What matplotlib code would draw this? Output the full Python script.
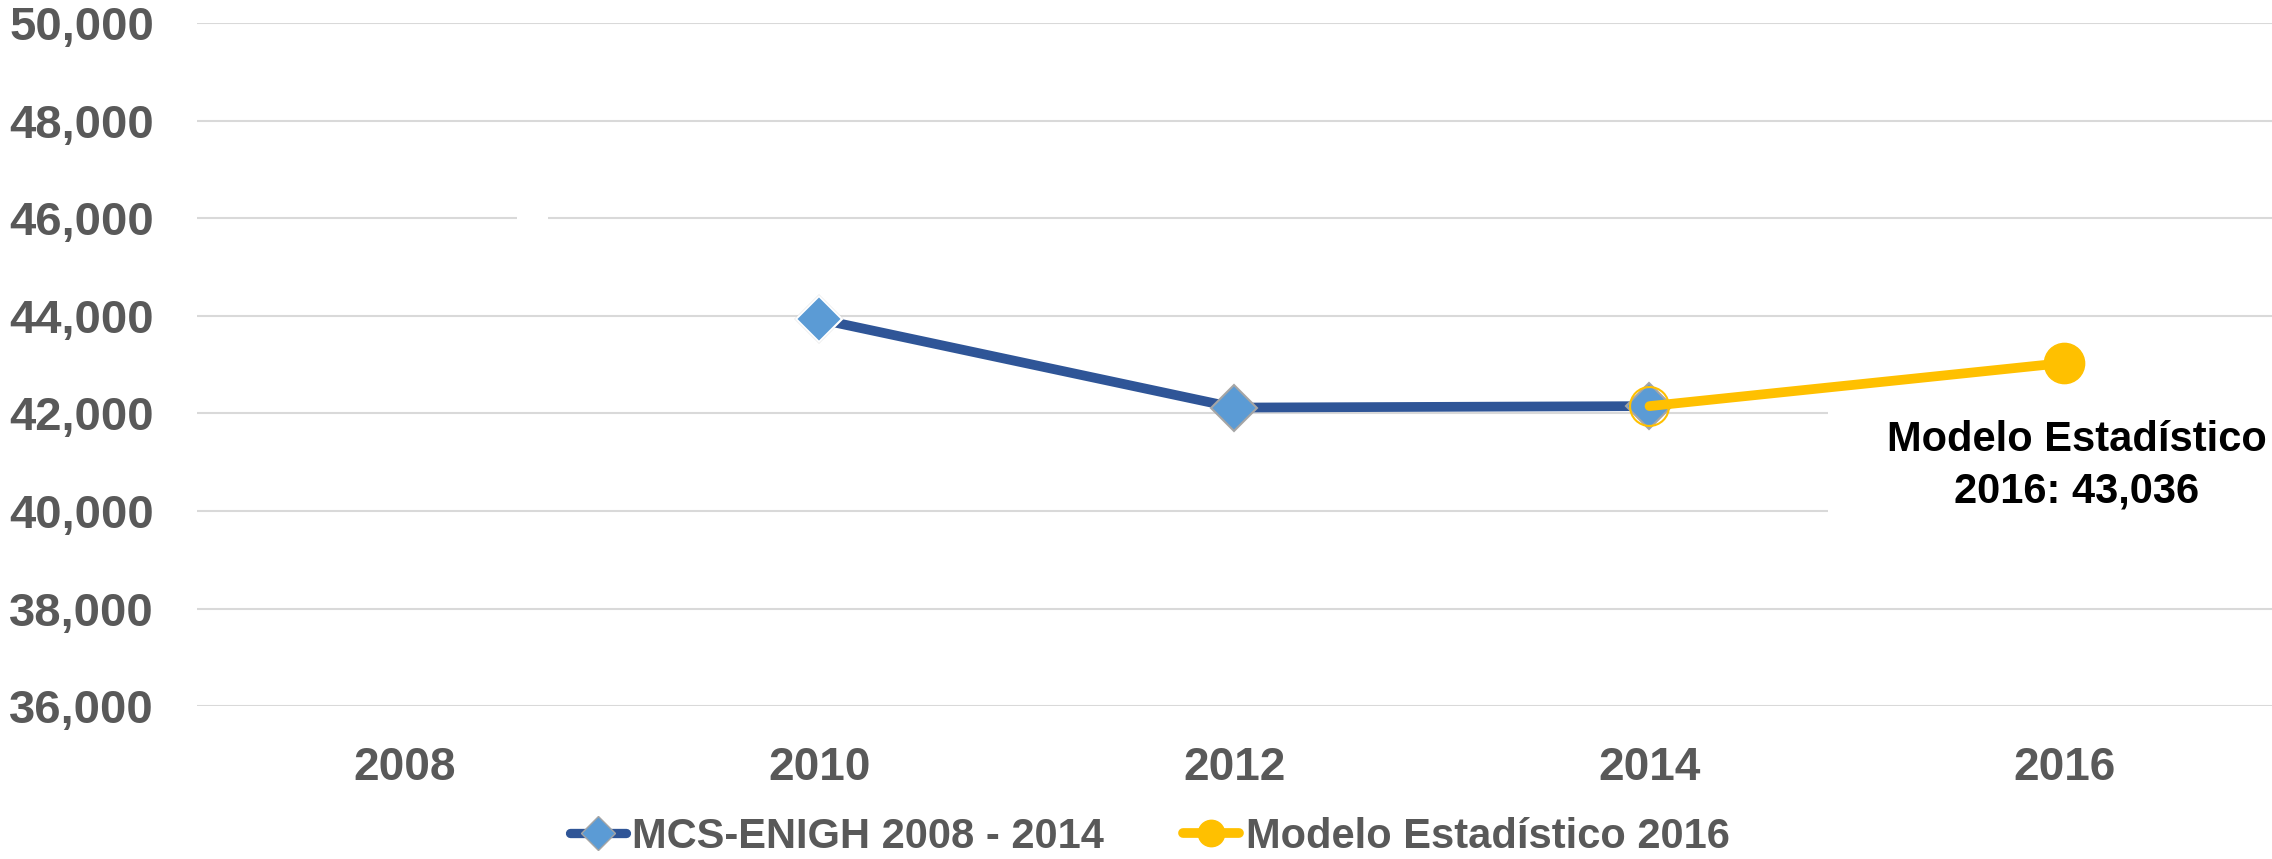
import numpy as np
import matplotlib
matplotlib.use("Agg")
import matplotlib.pyplot as plt
from matplotlib.lines import Line2D
from matplotlib.patches import Rectangle

years = ['2008', '2010', '2012', '2014', '2016']
mcs_enigh = [np.nan, 43930, 42120, 42150, np.nan]
modelo = [np.nan, np.nan, np.nan, 42150, 43036]
yticks = [36000, 38000, 40000, 42000, 44000, 46000, 48000, 50000]
label_mcs = 'MCS-ENIGH 2008 - 2014'
label_modelo = 'Modelo Estadístico 2016'
note = 'Modelo Estadístico\n2016: 43,036'

BLUE = '#2F5597'
LIGHTBLUE = '#5B9BD5'
YELLOW = '#FFC000'
GREY = '#595959'

plt.rcParams['font.family'] = ['Liberation Sans', 'DejaVu Sans']
plt.rcParams['font.weight'] = 'bold'


def main():
    fig = plt.figure(figsize=(22.72, 8.59), dpi=100)
    ax = fig.add_axes([0.0867, 0.178, 0.9133, 0.795])
    x = np.arange(len(years))

    # blue series
    ax.plot(x, mcs_enigh, color=BLUE, lw=7, marker='D', ms=23,
            mfc=LIGHTBLUE, mec='#A5A5A5', mew=1.5, zorder=3,
            solid_capstyle='butt')
    ax.plot(x[1:2], mcs_enigh[1:2], ls='none', marker='D', ms=23,
            mfc=LIGHTBLUE, mec='white', mew=1.5, zorder=3)

    # yellow series
    ax.plot(x, modelo, color=YELLOW, lw=7, solid_capstyle='round', zorder=4)
    ax.plot(x[3:4], modelo[3:4], ls='none', marker='o', ms=28,
            mfc='none', mec=YELLOW, mew=1.5, zorder=4)
    ax.plot(x[4:5], modelo[4:5], ls='none', marker='o', ms=29,
            mfc=YELLOW, mec=YELLOW, zorder=4)

    # white boxes hiding the grid (label background and a small gap)
    ax.add_patch(Rectangle((3.43, 39700), 1.2, 2500, facecolor='white',
                           edgecolor='none', zorder=1))
    ax.add_patch(Rectangle((0.271, 45950), 0.075, 100, facecolor='white',
                           edgecolor='none', zorder=1))

    ax.text(4.03, 40930, note, ha='center', va='center', fontsize=30,
            fontweight='bold', color='black', linespacing=1.35, zorder=5)

    ax.set_xlim(-0.5, 4.5)
    ax.set_ylim(36000, 50000)
    ax.set_xticks(x)
    ax.set_xticklabels(years)
    ax.set_yticks(yticks)
    ax.set_yticklabels(['{:,}'.format(v) for v in yticks])
    ax.tick_params(axis='y', length=0, pad=31, labelsize=34, labelcolor=GREY)
    ax.tick_params(axis='x', length=0, pad=29, labelsize=33, labelcolor=GREY)
    for t in ax.get_xticklabels() + ax.get_yticklabels():
        t.set_fontweight('bold')

    ax.grid(axis='y', color='#D9D9D9', lw=1.5, zorder=0)
    ax.set_axisbelow(True)
    for s in ax.spines.values():
        s.set_visible(False)

    h1 = Line2D([0], [0], color=BLUE, lw=6.7, marker='D', ms=17,
                mfc=LIGHTBLUE, mec='#A5A5A5', solid_capstyle='round')
    h2 = Line2D([0], [0], color=YELLOW, lw=7, marker='o', ms=19,
                mfc=YELLOW, mec=YELLOW, solid_capstyle='round')
    leg = fig.legend([h1, h2], [label_mcs, label_modelo], loc='center',
                     bbox_to_anchor=(0.506, 0.026), ncol=2, frameon=False,
                     fontsize=30, handlelength=1.35, handletextpad=0.15,
                     columnspacing=1.9, borderaxespad=0)
    for t in leg.get_texts():
        t.set_color(GREY)
        t.set_fontweight('bold')

    fig.savefig('out.png', dpi=100)


if __name__ == "__main__":
    main()
